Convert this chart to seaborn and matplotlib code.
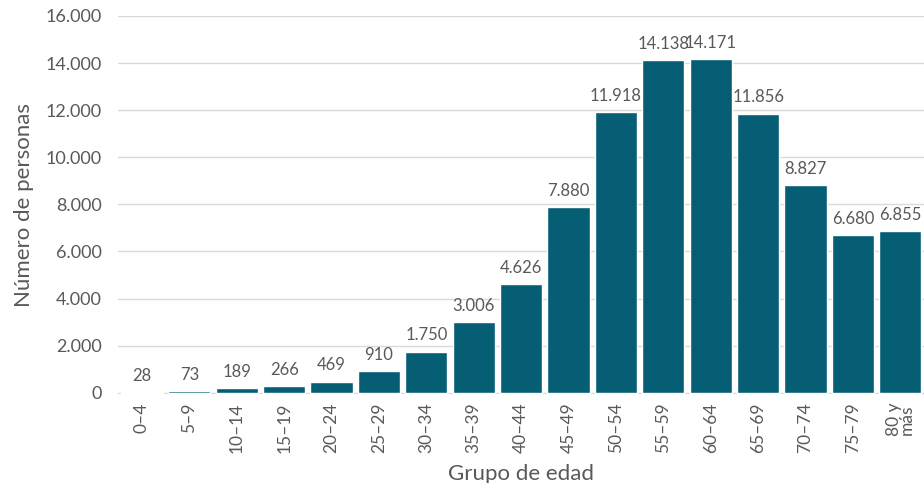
import pandas as pd
import matplotlib
matplotlib.use("Agg")
import matplotlib.pyplot as plt
import seaborn as sns

# age groups and number of people
grupos = ['0–4', '5–9', '10–14', '15–19', '20–24', '25–29', '30–34', '35–39', '40–44',
          '45–49', '50–54', '55–59', '60–64', '65–69', '70–74', '75–79', '80 y\nmás']
personas = [28, 73, 189, 266, 469, 910, 1750, 3006, 4626,
            7880, 11918, 14138, 14171, 11856, 8827, 6680, 6855]
etiquetas = ['28', '73', '189', '266', '469', '910', '1.750', '3.006', '4.626',
             '7.880', '11.918', '14.138', '14.171', '11.856', '8.827', '6.680', '6.855']
y_ticks = [0, 2000, 4000, 6000, 8000, 10000, 12000, 14000, 16000]
y_ticklabels = ['0', '2.000', '4.000', '6.000', '8.000', '10.000', '12.000', '14.000', '16.000']

df = pd.DataFrame({'grupo': grupos, 'personas': personas})

sns.set_style("white")
plt.rcParams['font.family'] = ['Lato', 'DejaVu Sans']
gris = '#595959'

fig = plt.figure(figsize=(9.24, 4.83), dpi=100)
ax = fig.add_axes([0.128, 0.184, 0.872, 0.783])

sns.barplot(data=df, x='grupo', y='personas', color='#065E74', width=0.89,
            saturation=1, ax=ax, zorder=3)

for i, (v, t) in enumerate(zip(personas, etiquetas)):
    ax.text(i, v + 350, t, ha='center', va='bottom', fontsize=12, color=gris)

ax.set_ylim(-60, 16000)
ax.set_yticks(y_ticks)
ax.set_yticklabels(y_ticklabels)
ax.yaxis.grid(True, color='#d9d9d9', linewidth=1, zorder=0)
ax.set_axisbelow(True)
ax.tick_params(axis='y', length=0, pad=12, labelsize=13, labelcolor=gris)
ax.tick_params(axis='x', length=0, pad=6, labelsize=12.5, labelcolor=gris, rotation=90)
for lab in ax.get_xticklabels():
    lab.set_linespacing(0.8)

sns.despine(ax=ax, left=True, top=True, right=True, bottom=True)
ax.axhline(-60, color='#d9d9d9', linewidth=2, zorder=1)

ax.set_xlabel('Grupo de edad', fontsize=16, color=gris, labelpad=8)
ax.set_ylabel('Número de personas', fontsize=16, color=gris, labelpad=8)

fig.savefig('out.png', dpi=100)
